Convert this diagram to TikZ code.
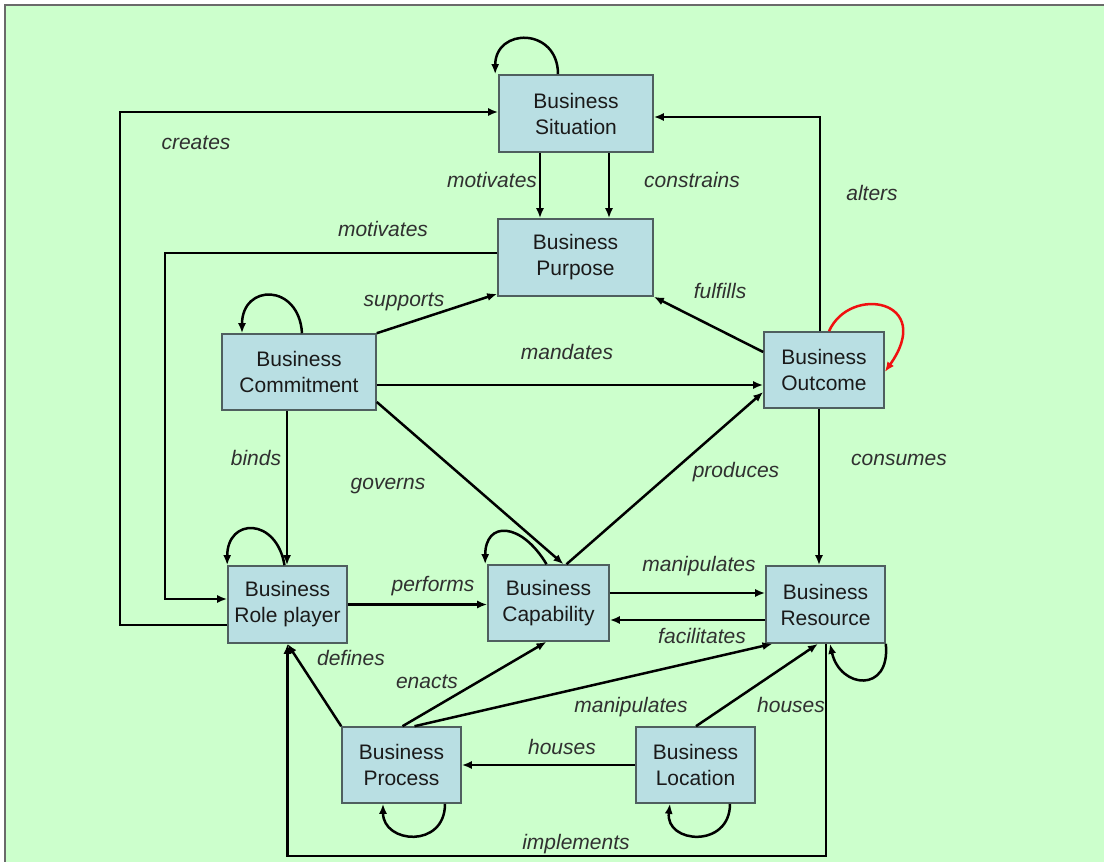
\documentclass[tikz,border=0pt]{standalone}
\usepackage{fontspec}
\setmainfont{Liberation Sans}
\usetikzlibrary{arrows.meta,calc}
\definecolor{bg}{HTML}{CCFFCC}
\definecolor{boxfill}{HTML}{B9DFE3}
\definecolor{boxline}{HTML}{4F5F5F}
\definecolor{ink}{HTML}{1A1A1A}
\definecolor{lbl}{HTML}{303030}
\definecolor{loopred}{HTML}{F01010}
\definecolor{frame}{HTML}{6A6A6A}

\begin{document}
\begin{tikzpicture}[x=1pt,y=-1pt,
  entity/.style={draw=boxline,fill=boxfill,line width=1.6pt,inner sep=0pt,
    align=center,text=ink,font=\fontsize{21}{26}\selectfont},
  rel/.style={draw=black,line width=2.5pt,-{Latex[length=10pt,width=8pt]}},
  lab/.style={text=lbl,font=\fontsize{21}{25}\selectfont\itshape,anchor=base,inner sep=0pt}]

% canvas
\useasboundingbox (0,0) rectangle (1104,862);
\fill[white] (0,0) rectangle (1104,862);
\fill[bg] (5,5) rectangle (1104,862);
\draw[frame,line width=1.5pt] (5,862) -- (5,5) -- (1104,5);

% entities
\node[entity,minimum width=154pt,minimum height=77pt] (sit) at (576,113.5) {Business\\Situation};
\node[entity,minimum width=155pt,minimum height=77pt] (pur) at (575.5,257.5) {Business\\Purpose};
\node[entity,minimum width=154pt,minimum height=76pt] (com) at (299,372) {Business\\Commitment};
\node[entity,minimum width=120pt,minimum height=76pt] (out) at (824,370) {Business\\Outcome};
\node[entity,minimum width=119pt,minimum height=77pt] (rol) at (287.5,604.5) {Business\\Role player};
\node[entity,minimum width=121pt,minimum height=76pt] (cap) at (548.5,603) {Business\\Capability};
\node[entity,minimum width=119pt,minimum height=77pt] (res) at (825.5,604.5) {Business\\Resource};
\node[entity,minimum width=119pt,minimum height=76pt] (pro) at (401.5,765) {Business\\Process};
\node[entity,minimum width=119pt,minimum height=76pt] (loc) at (695.5,765) {Business\\Location};

% relationships
\draw[rel] ([xshift=-36pt]sit.south) -- ([xshift=-35.5pt]pur.north);
\draw[rel] ([xshift=33pt]sit.south) -- ([xshift=33.5pt]pur.north);
\draw[rel] ([yshift=-20.5pt]rol.west) -- ++(-107,0) |- ([yshift=1.5pt]sit.west);
\draw[rel] ([yshift=4.5pt]pur.west) -- ++(-332,0) |- ([yshift=5.5pt]rol.west);
\draw[rel] ([xshift=-4pt]out.north) |- ([yshift=-3.5pt]sit.east);
\draw[rel] (com.north east) -- ([yshift=3pt]pur.south west);
\draw[rel] ([yshift=18pt]out.west) -- (pur.south east);
\draw[rel] ([yshift=-13pt]com.east) -- ([yshift=-15pt]out.west);
\draw[rel] ([xshift=-12pt]com.south) -- ([xshift=-0.5pt]rol.north);
\draw[rel] ([yshift=-30pt]com.east) -- ([xshift=15pt]cap.north);
\draw[rel] ([xshift=18pt]cap.north) -- ([yshift=-22pt]out.west);
\draw[rel] ([xshift=-5pt]out.south) -- ([xshift=-6.5pt]res.north);
\draw[rel] (rol.east) -- ([yshift=-1.5pt]cap.west);
\draw[rel] ([yshift=10pt]cap.east) -- ([yshift=11.5pt]res.west);
\draw[rel] ([yshift=-15.5pt]res.west) -- ([yshift=-17pt]cap.east);
\draw[rel] ([xshift=0.5pt]res.south) -- ++(0,212) -| (rol.south);
\draw[rel] (pro.north west) -- (rol.south);
\draw[rel] ([xshift=1pt]pro.north) -- ([xshift=-2pt]cap.south);
\draw[rel] ([xshift=13pt]pro.north) -- ([xshift=-53pt]res.south);
\draw[rel] (loc.west) -- (pro.east);
\draw[rel] ([xshift=0.5pt]loc.north) -- ([xshift=-7.5pt]res.south);

% self references
\draw[rel] ([xshift=-18pt]sit.north) .. controls +(0,-47) and +(0,-47) .. ([xshift=-3pt]sit.north west);
\draw[rel] ([xshift=3pt]com.north) .. controls +(-3,-50) and +(0,-50) .. ([xshift=-57pt]com.north);
\draw[rel] ([xshift=-3pt]rol.north) .. controls +(-8,-48) and +(0,-48) .. (rol.north west);
\draw[rel] ([xshift=-2pt]cap.north) .. controls +(-25,-42) and +(0,-44) .. ([xshift=-2pt]cap.north west);
\draw[rel,loopred] ([xshift=5pt]out.north) .. controls +(21,-47) and +(51,-72) .. ([yshift=-2pt]out.east);
\draw[rel] (res.south east) .. controls +(5,50) and +(10,45) .. ([xshift=4.5pt]res.south);
\draw[rel] ([xshift=43.5pt]pro.south) .. controls +(0,45) and +(0,40) .. ([xshift=-18.5pt]pro.south);
\draw[rel] ([xshift=34.5pt]loc.south) .. controls +(0,45) and +(-5,40) .. ([xshift=-25.5pt]loc.south);

% relationship names
\node[lab] (tcreates) at (196,149) {creates};
\node[lab] (tmotA) at (492,187) {motivates};
\node[lab] (tcons) at (692,187) {constrains};
\node[lab] (tmotB) at (383,236) {motivates};
\node[lab] (talters) at (872,200) {alters};
\node[lab] (tsupp) at (404,306) {supports};
\node[lab] (tfulf) at (720,298) {fulfills};
\node[lab] (tmand) at (567,359) {mandates};
\node[lab] (tbinds) at (256,465) {binds};
\node[lab] (tgov) at (388,489) {governs};
\node[lab] (tprod) at (736,477) {produces};
\node[lab] (tcons2) at (899,465) {consumes};
\node[lab] (tperf) at (433,591) {performs};
\node[lab] (tmanA) at (699,571) {manipulates};
\node[lab] (tfac) at (702,643) {facilitates};
\node[lab] (tdef) at (351,665) {defines};
\node[lab] (tenact) at (427,688) {enacts};
\node[lab] (tmanB) at (631,712) {manipulates};
\node[lab] (thouA) at (562,754) {houses};
\node[lab] (thouB) at (791,712) {houses};
\node[lab] (timpl) at (576,849) {implements};
\end{tikzpicture}
\end{document}
